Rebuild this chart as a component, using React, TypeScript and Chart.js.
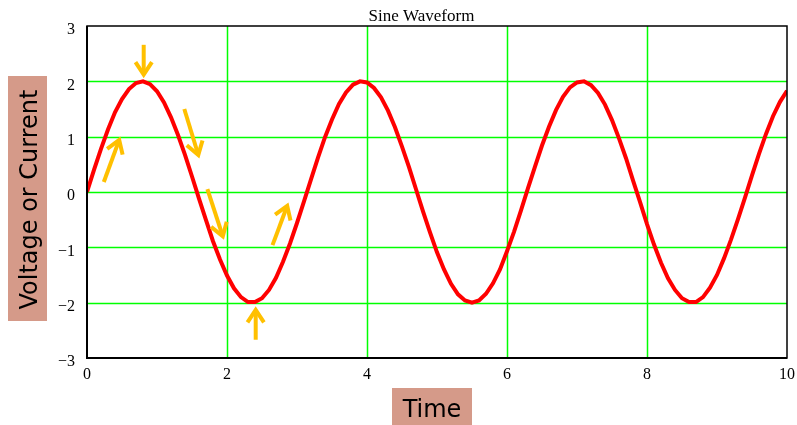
import React, { useEffect, useRef } from "react";
import { Chart, registerables } from "chart.js";

Chart.register(...registerables);

const chartTitle = "Sine Waveform";
const xAxisLabel = "Time";
const yAxisLabel = "Voltage or Current";

const timeValues = [
  0, 0.1, 0.2, 0.3, 0.4, 0.5, 0.6, 0.7, 0.8, 0.9,
  1.0, 1.1, 1.2, 1.3, 1.4, 1.5, 1.6, 1.7, 1.8, 1.9,
  2.0, 2.1, 2.2, 2.3, 2.4, 2.5, 2.6, 2.7, 2.8, 2.9,
  3.0, 3.1, 3.2, 3.3, 3.4, 3.5, 3.6, 3.7, 3.8, 3.9,
  4.0, 4.1, 4.2, 4.3, 4.4, 4.5, 4.6, 4.7, 4.8, 4.9,
  5.0, 5.1, 5.2, 5.3, 5.4, 5.5, 5.6, 5.7, 5.8, 5.9,
  6.0, 6.1, 6.2, 6.3, 6.4, 6.5, 6.6, 6.7, 6.8, 6.9,
  7.0, 7.1, 7.2, 7.3, 7.4, 7.5, 7.6, 7.7, 7.8, 7.9,
  8.0, 8.1, 8.2, 8.3, 8.4, 8.5, 8.6, 8.7, 8.8, 8.9,
  9.0, 9.1, 9.2, 9.3, 9.4, 9.5, 9.6, 9.7, 9.8, 9.9,
  10.0,
];

const signalValues = [
  0.0, 0.4, 0.78, 1.13, 1.44, 1.68, 1.86, 1.97, 2.0, 1.95,
  1.82, 1.62, 1.35, 1.03, 0.67, 0.28, -0.12, -0.51, -0.89, -1.22,
  -1.51, -1.74, -1.9, -1.99, -1.99, -1.92, -1.77, -1.55, -1.26, -0.93,
  -0.56, -0.17, 0.23, 0.62, 0.99, 1.31, 1.59, 1.8, 1.94, 2.0,
  1.98, 1.88, 1.71, 1.47, 1.17, 0.82, 0.45, 0.05, -0.35, -0.73,
  -1.09, -1.4, -1.66, -1.85, -1.96, -2.0, -1.96, -1.84, -1.65, -1.4,
  -1.07, -0.72, -0.33, 0.07, 0.46, 0.84, 1.18, 1.48, 1.72, 1.89,
  1.98, 2.0, 1.93, 1.79, 1.58, 1.3, 0.97, 0.61, 0.21, -0.18,
  -0.58, -0.95, -1.28, -1.56, -1.77, -1.92, -1.99, -1.99, -1.9, -1.73,
  -1.5, -1.2, -0.86, -0.49, -0.1, 0.3, 0.69, 1.05, 1.37, 1.63,
  1.83,
];

const xTickValues = [0, 2, 4, 6, 8, 10];
const yTickValues = [-3, -2, -1, 0, 1, 2, 3];

// Annotation arrows in data units: tail -> tip
const arrowTailX = [0.81, 0.24, 1.39, 1.72, 2.65, 2.41];
const arrowTailY = [2.66, 0.18, 1.5, 0.05, -0.96, -2.67];
const arrowTipX = [0.81, 0.46, 1.59, 1.94, 2.86, 2.41];
const arrowTipY = [2.12, 0.94, 0.67, -0.8, -0.25, -2.13];

const GRID_GREEN = "#00ff00";
const LABEL_BOX = "rgb(213,154,137)";
const SERIF = '"Liberation Serif", "Times New Roman", serif';
const SANS = '"DejaVu Sans", Verdana, sans-serif';

const decorPlugin = {
  id: "decor",
  beforeDatasetsDraw(chart: any) {
    const { ctx, chartArea, scales } = chart;
    const xs = scales.x;
    const ys = scales.y;
    ctx.save();
    ctx.strokeStyle = GRID_GREEN;
    ctx.lineWidth = 1.5;
    xTickValues.forEach((v) => {
      if (v === xs.min || v === xs.max) return;
      const px = Math.round(xs.getPixelForValue(v)) + 0.5;
      ctx.beginPath();
      ctx.moveTo(px, chartArea.top);
      ctx.lineTo(px, chartArea.bottom);
      ctx.stroke();
    });
    yTickValues.forEach((v) => {
      if (v === ys.min || v === ys.max) return;
      const py = Math.round(ys.getPixelForValue(v)) + 0.5;
      ctx.beginPath();
      ctx.moveTo(chartArea.left, py);
      ctx.lineTo(chartArea.right, py);
      ctx.stroke();
    });
    ctx.restore();
  },
  afterDatasetsDraw(chart: any) {
    const { ctx, chartArea, scales } = chart;
    const xs = scales.x;
    const ys = scales.y;
    ctx.save();
    // plot border
    ctx.strokeStyle = "#000";
    ctx.lineWidth = 1.5;
    ctx.strokeRect(chartArea.left, chartArea.top, chartArea.right - chartArea.left, chartArea.bottom - chartArea.top);
    ctx.lineWidth = 2;
    ctx.beginPath();
    ctx.moveTo(chartArea.left, chartArea.top);
    ctx.lineTo(chartArea.left, chartArea.bottom);
    ctx.lineTo(chartArea.right, chartArea.bottom);
    ctx.stroke();

    // arrows
    ctx.strokeStyle = "rgb(255,192,0)";
    ctx.lineWidth = 4;
    ctx.lineCap = "butt";
    ctx.lineJoin = "miter";
    for (let i = 0; i < arrowTailX.length; i++) {
      const x0 = xs.getPixelForValue(arrowTailX[i]);
      const y0 = ys.getPixelForValue(arrowTailY[i]);
      const x1 = xs.getPixelForValue(arrowTipX[i]);
      const y1 = ys.getPixelForValue(arrowTipY[i]);
      const ang = Math.atan2(y1 - y0, x1 - x0);
      const hl = 15;
      const spread = 0.58;
      ctx.beginPath();
      ctx.moveTo(x0, y0);
      ctx.lineTo(x1 - Math.cos(ang) * 2, y1 - Math.sin(ang) * 2);
      ctx.stroke();
      ctx.beginPath();
      ctx.moveTo(x1 - hl * Math.cos(ang - spread), y1 - hl * Math.sin(ang - spread));
      ctx.lineTo(x1, y1);
      ctx.lineTo(x1 - hl * Math.cos(ang + spread), y1 - hl * Math.sin(ang + spread));
      ctx.stroke();
    }
    ctx.restore();
  },
  afterDraw(chart: any) {
    const { ctx } = chart;
    ctx.save();
    // title
    ctx.fillStyle = "#000";
    ctx.font = "17px " + SERIF;
    ctx.textAlign = "center";
    ctx.textBaseline = "alphabetic";
    ctx.fillText(chartTitle, 421.5, 20.5);

    // y label box
    ctx.fillStyle = LABEL_BOX;
    ctx.fillRect(8, 76, 39, 245);
    ctx.save();
    ctx.translate(36.5, 199.5);
    ctx.rotate(-Math.PI / 2);
    ctx.fillStyle = "#000";
    ctx.font = "24px " + SANS;
    ctx.textAlign = "center";
    ctx.textBaseline = "alphabetic";
    ctx.fillText(yAxisLabel, 0, 0);
    ctx.restore();

    // x label box
    ctx.fillStyle = LABEL_BOX;
    ctx.fillRect(392, 388, 80, 37);
    ctx.fillStyle = "#000";
    ctx.font = "24px " + SANS;
    ctx.textAlign = "center";
    ctx.textBaseline = "alphabetic";
    ctx.fillText(xAxisLabel, 432, 416.5);
    ctx.restore();
  },
};

export default function App() {
  const canvasRef = useRef<HTMLCanvasElement | null>(null);

  useEffect(() => {
    const canvas = canvasRef.current;
    if (!canvas) return;
    const points = timeValues.map((t, i) => ({ x: t, y: signalValues[i] }));
    const chart = new Chart(canvas, {
      type: "line",
      data: {
        datasets: [
          {
            data: points,
            borderColor: "#ff0000",
            borderWidth: 4,
            pointRadius: 0,
            tension: 0,
            fill: false,
          },
        ],
      },
      options: {
        animation: false,
        responsive: false,
        maintainAspectRatio: false,
        layout: { padding: { left: 0, right: 10, top: 26, bottom: 0 } },
        plugins: {
          legend: { display: false },
          title: { display: false },
          tooltip: { enabled: false },
        },
        scales: {
          x: {
            type: "linear",
            min: 0,
            max: 10,
            afterBuildTicks: (s: any) => {
              s.ticks = xTickValues.map((v) => ({ value: v }));
            },
            afterFit: (s: any) => {
              s.height = 67;
              s.paddingLeft = 0;
              s.paddingRight = 0;
            },
            ticks: {
              color: "#000",
              font: { family: SERIF, size: 16 },
              padding: 7,
              maxRotation: 0,
              callback: (v: any) => String(v),
            },
            grid: { display: false, drawTicks: false },
            border: { display: false },
          },
          y: {
            type: "linear",
            min: -3,
            max: 3,
            afterBuildTicks: (s: any) => {
              s.ticks = yTickValues.map((v) => ({ value: v }));
            },
            afterFit: (s: any) => {
              s.width = 87;
              s.paddingTop = 0;
              s.paddingBottom = 0;
            },
            ticks: {
              color: "#000",
              font: { family: SERIF, size: 16 },
              padding: 12,
              labelOffset: 4,
              callback: (v: any) => (v < 0 ? "\u2212" + Math.abs(v) : String(v)),
            },
            grid: { display: false, drawTicks: false },
            border: { display: false },
          },
        },
      },
      plugins: [decorPlugin],
    });
    return () => chart.destroy();
  }, []);

  return (
    <div style={{ position: "absolute", left: 0, top: 0, width: 797, height: 425, background: "#fff" }}>
      <canvas ref={canvasRef} width={797} height={425} style={{ display: "block", width: 797, height: 425 }} />
    </div>
  );
}
